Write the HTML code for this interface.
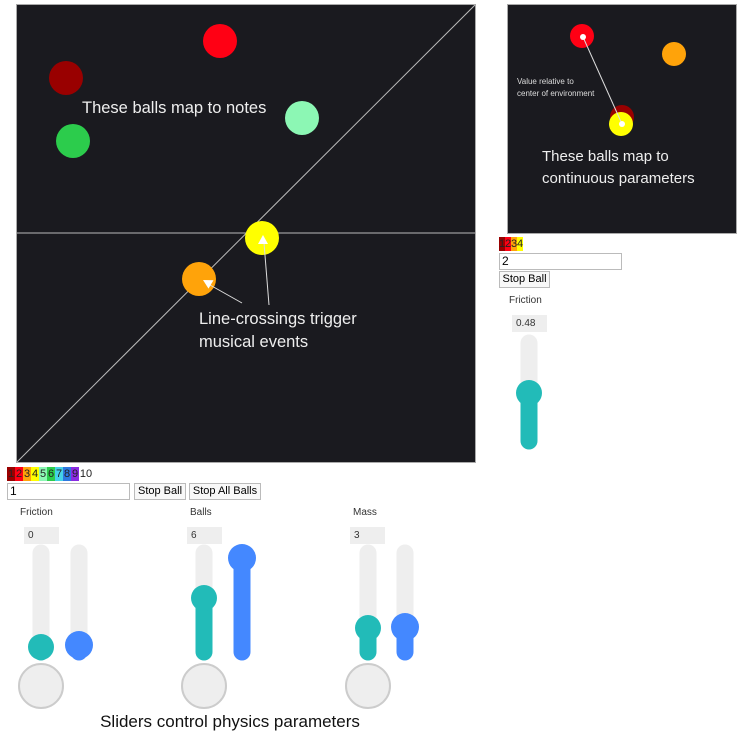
<!DOCTYPE html>
<html><head><meta charset="utf-8">
<style>
body{margin:0;width:739px;height:735px;background:#fff;position:relative;overflow:hidden;font-family:"Liberation Sans",sans-serif;}
.abs{position:absolute;}
.inp{position:absolute;border:1px solid #bbb;background:#fff;font-size:12px;line-height:15px;padding-left:2px;box-sizing:border-box;color:#000;}
.btn{position:absolute;border:1px solid #bbb;background:#f8f8f8;font-size:11px;line-height:15px;text-align:center;box-sizing:border-box;color:#000;}
.lbl{position:absolute;font-size:10px;color:#333;}
.val{position:absolute;background:#eee;font-size:10px;color:#333;line-height:17px;padding-left:4px;box-sizing:border-box;}
.strip{position:absolute;display:flex;height:14px;font-size:11px;line-height:14px;}
.strip span{display:inline-block;width:8px;text-align:center;color:#222;}
</style></head><body>
<svg class="abs" style="left:0;top:0" width="739" height="735">
  <g>
    <rect x="16.5" y="4.5" width="459" height="458" fill="#1a1a1f" stroke="#aaa" stroke-width="1"/>
    <line x1="17" y1="233" x2="475" y2="233" stroke="#bbb" stroke-width="1"/>
    <line x1="17" y1="462" x2="475" y2="5" stroke="#bbb" stroke-width="1"/>
    <circle cx="220" cy="41" r="17" fill="#ff0014"/>
    <circle cx="66" cy="78" r="17" fill="#990000"/>
    <circle cx="302" cy="118" r="17" fill="#8cf7b4"/>
    <circle cx="73" cy="141" r="17" fill="#2ccc4c"/>
    <circle cx="262" cy="238" r="17" fill="#ffff00"/>
    <circle cx="199" cy="279" r="17" fill="#ffa30a"/>
    <text x="82" y="113" fill="#eee" font-size="16.5" font-family="Liberation Sans, sans-serif">These balls map to notes</text>
    <text x="199" y="324" fill="#eee" font-size="16.5" font-family="Liberation Sans, sans-serif">Line-crossings trigger</text>
    <text x="199" y="347" fill="#eee" font-size="16.5" font-family="Liberation Sans, sans-serif">musical events</text>
    <line x1="242" y1="303" x2="210" y2="285" stroke="#ddd" stroke-width="1"/>
    <polygon points="203,280 213.5,280.2 208.5,288.6" fill="#fff"/>
    <line x1="269" y1="305" x2="264" y2="243" stroke="#ddd" stroke-width="1"/>
    <polygon points="263,235 268,244 258,244" fill="#fff"/>
  </g>
  <g>
    <rect x="507.5" y="4.5" width="229" height="229" fill="#1a1a1f" stroke="#aaa" stroke-width="1"/>
    <circle cx="582" cy="36" r="12" fill="#ff0014"/>
    <circle cx="674" cy="54" r="12" fill="#ffa30a"/>
    <circle cx="622" cy="117" r="12" fill="#990000"/>
    <circle cx="621" cy="124" r="12" fill="#ffff00"/>
    <line x1="583" y1="37" x2="622" y2="124" stroke="#ddd" stroke-width="1"/>
    <circle cx="583" cy="37" r="3" fill="#fff"/>
    <circle cx="622" cy="124" r="3" fill="#fff"/>
    <text x="517" y="84" fill="#ddd" font-size="8" font-family="Liberation Sans, sans-serif">Value relative to</text>
    <text x="517" y="96" fill="#ddd" font-size="8" font-family="Liberation Sans, sans-serif">center of environment</text>
    <text x="542" y="161" fill="#eee" font-size="15" font-family="Liberation Sans, sans-serif">These balls map to</text>
    <text x="542" y="183" fill="#eee" font-size="15" font-family="Liberation Sans, sans-serif">continuous parameters</text>
  </g>
  <g id="sliders"></g>
  <text x="230" y="727" text-anchor="middle" fill="#111" font-size="17" font-family="Liberation Sans, sans-serif">Sliders control physics parameters</text>
</svg>

<div class="strip" style="left:7px;top:467px">
<span style="background:#990000">1</span><span style="background:#ff0014">2</span><span style="background:#ffa30a">3</span><span style="background:#ffff00">4</span><span style="background:#8cf7b4">5</span><span style="background:#2ccc4c">6</span><span style="background:#45d1e8">7</span><span style="background:#2e78e0">8</span><span style="background:#8a2be2">9</span><span style="width:14px">10</span>
</div>
<div class="inp" style="left:7px;top:483px;width:123px;height:17px">1</div>
<div class="btn" style="left:134px;top:483px;width:52px;height:17px">Stop Ball</div>
<div class="btn" style="left:189px;top:483px;width:72px;height:17px">Stop All Balls</div>
<div class="lbl" style="left:20px;top:507px">Friction</div>
<div class="lbl" style="left:190px;top:507px">Balls</div>
<div class="lbl" style="left:353px;top:507px">Mass</div>
<div class="val" style="left:24px;top:527px;width:35px;height:17px">0</div>
<div class="val" style="left:187px;top:527px;width:35px;height:17px">6</div>
<div class="val" style="left:350px;top:527px;width:35px;height:17px">3</div>

<div class="strip" style="left:499px;top:237px">
<span style="background:#990000;width:6px">1</span><span style="background:#ff0014;width:6px">2</span><span style="background:#ffa30a;width:6px">3</span><span style="background:#ffff00;width:6px">4</span>
</div>
<div class="inp" style="left:499px;top:253px;width:123px;height:17px">2</div>
<div class="btn" style="left:499px;top:271px;width:51px;height:17px">Stop Ball</div>
<div class="lbl" style="left:509px;top:295px">Friction</div>
<div class="val" style="left:512px;top:315px;width:35px;height:17px">0.48</div>

<script>
// slider track x centers, knob y positions, colors
const sliderX = [41, 79, 204, 242, 368, 405, 529];
const sliderTop = [545, 545, 545, 545, 545, 545, 335];
const sliderBottom = [660, 660, 660, 660, 660, 660, 449];
const knobY = [647, 645, 598, 558, 628, 627, 393];
const knobR = [13, 14, 13, 14, 13, 14, 13];
const sliderColor = ['#22bbb8','#4488ff','#22bbb8','#4488ff','#22bbb8','#4488ff','#22bbb8'];
const dialX = [41, 204, 368];
const NS = 'http://www.w3.org/2000/svg';
const g = document.getElementById('sliders');
function mk(tag, attrs){const e=document.createElementNS(NS,tag);for(const k in attrs)e.setAttribute(k,attrs[k]);return e;}
sliderX.forEach((x,i)=>{
  const s = mk('g',{});
  
  
  s.appendChild(mk('line',{x1:x,y1:sliderTop[i]+8,x2:x,y2:sliderBottom[i]-8,stroke:'#eee','stroke-width':17,'stroke-linecap':'round'}));
  s.appendChild(mk('line',{x1:x,y1:knobY[i],x2:x,y2:sliderBottom[i]-8,stroke:sliderColor[i],'stroke-width':17,'stroke-linecap':'round'}));
  s.appendChild(mk('circle',{cx:x,cy:knobY[i],r:knobR[i],fill:sliderColor[i]}));
  g.appendChild(s);
});
dialX.forEach((x,i)=>{
  const c = mk('circle',{cx:x,cy:686,r:22,fill:'#eee',stroke:'#ccc','stroke-width':2});
  
  
  g.appendChild(c);
});
</script>
</body></html>
